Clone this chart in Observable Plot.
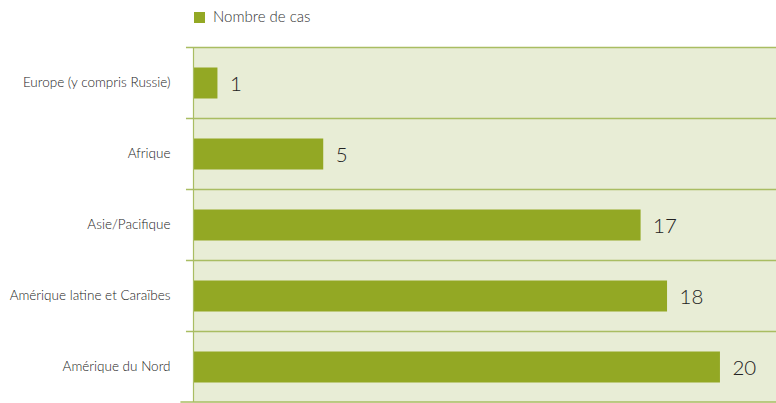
<!DOCTYPE html>
<html>
<head>
<meta charset="utf-8">
<script src="https://cdn.jsdelivr.net/npm/d3@7"></script>
<script src="https://cdn.jsdelivr.net/npm/@observablehq/plot@0.6"></script>
<style>
  html, body { margin: 0; padding: 0; background: #fff; }
  body { width: 776px; height: 403px; overflow: hidden; font-family: Lato, "Open Sans", sans-serif; }
  #legend { height: 40px; position: relative; }
  #legend .sw { position: absolute; left: 194px; top: 12px; width: 11px; height: 11px; background: #93a824; }
  #legend .lb { position: absolute; left: 213px; top: 7px; font-size: 15px; color: #333; font-weight: 300; }
  svg { display: block; }
</style>
</head>
<body>
<div id="legend"><span class="sw"></span><span class="lb">Nombre de cas</span></div>
<div id="chart"></div>
<script>
const regions = ["Europe (y compris Russie)", "Afrique", "Asie/Pacifique", "Amérique latine et Caraïbes", "Amérique du Nord"];
const cases = [1, 5, 17, 18, 20];
const seriesName = "Nombre de cas";

const data = regions.map((r, i) => ({region: r, value: cases[i]}));

const barColor = "#93a824";
const bgColor = "#e8edd6";
const lineColor = "#a9bd62";
const band = 71;
const xMax = 22.12;

const chart = Plot.plot({
  width: 776,
  height: 363,
  marginTop: 7,
  marginBottom: 1,
  marginLeft: 191,
  marginRight: 0,
  style: {fontFamily: "Lato, 'Open Sans', sans-serif", background: "#fff"},
  x: {domain: [0, xMax], axis: null},
  y: {domain: regions, padding: 0, label: null},
  marks: [
    Plot.frame({fill: bgColor, stroke: null, dx: 2}),
    Plot.ruleY(data, {y: "region", dy: -band / 2, x1: -0.19, x2: xMax, stroke: lineColor, strokeWidth: 1.6}),
    Plot.ruleY(data.slice(-1), {y: "region", dy: band / 2 - 0.5, x1: -0.4, x2: xMax, stroke: lineColor, strokeWidth: 1.6}),
    Plot.barX(data, {x: "value", y: "region", fill: barColor, insetTop: 20.5, insetBottom: 19.5, insetLeft: 2}),
    Plot.ruleX([0], {dx: 2, stroke: lineColor, strokeWidth: 1.2}),
    Plot.text(data, {x: "value", y: "region", text: d => String(d.value), dx: 12, dy: 1.5, textAnchor: "start", fontSize: 20.5, fontWeight: 300, fill: "#222"}),
    Plot.axisY({tickSize: 0, tickPadding: 21, fontSize: 13.5, fontWeight: 300, fill: "#222", label: null})
  ]
});
document.getElementById("chart").appendChild(chart);
</script>
</body>
</html>
